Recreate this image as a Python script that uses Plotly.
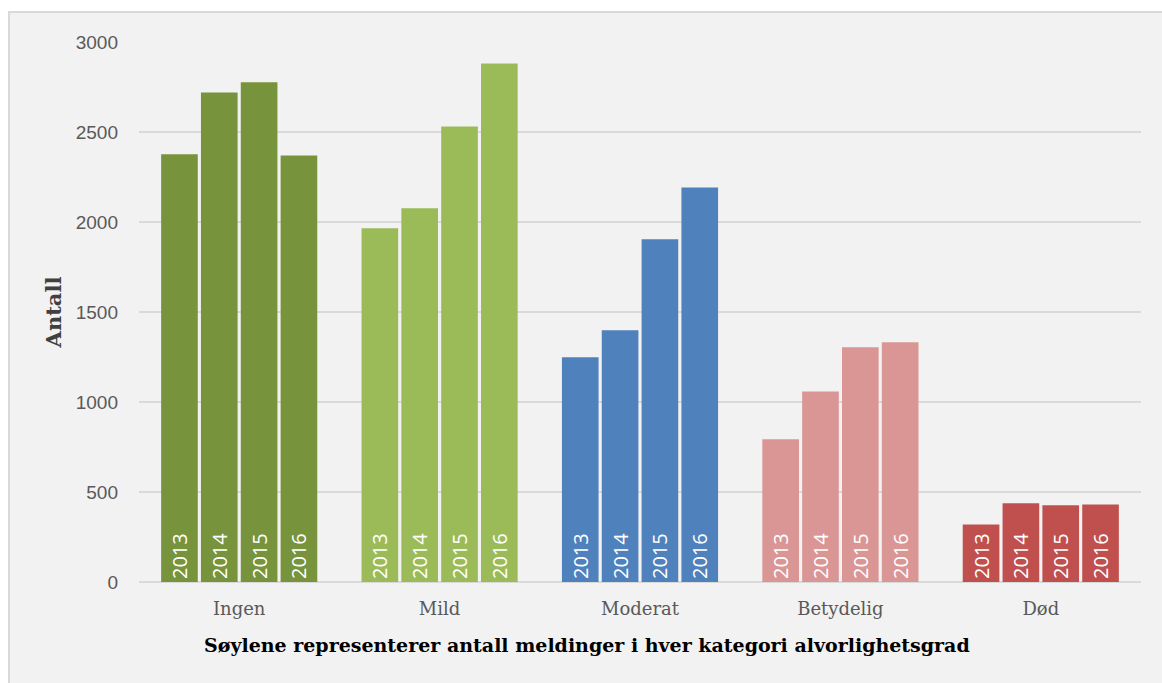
import plotly.graph_objects as go

# Alvorlighetsgrad categories and years
categories = ["Ingen", "Mild", "Moderat", "Betydelig", "Død"]
years = ["2013", "2014", "2015", "2016"]

# Antall meldinger per kategori, one list per category (2013..2016)
ingen = [2376, 2720, 2776, 2370]
mild = [1965, 2076, 2531, 2881]
moderat = [1248, 1398, 1904, 2192]
betydelig = [793, 1058, 1304, 1332]
dod = [320, 437, 426, 431]

category_values = [ingen, mild, moderat, betydelig, dod]
category_colors = ["#77933C", "#9BBB59", "#4F81BD", "#D99694", "#C0504D"]

y_ticks = [0, 500, 1000, 1500, 2000, 2500, 3000]

W, H = 1162, 683
L, R, T, B = 139, 21, 42, 101

fig = go.Figure()

# One trace per year so bars group within each category; colour per category
for i, yr in enumerate(years):
    fig.add_trace(go.Bar(
        x=categories,
        y=[vals[i] for vals in category_values],
        marker=dict(color=category_colors, line=dict(width=0)),
        text=[yr] * len(categories),
        textposition="inside",
        insidetextanchor="start",
        textangle=-90,
        textfont=dict(family="Open Sans, DejaVu Sans, sans-serif", size=20, color="white"),
        constraintext="none",
        name=yr,
        showlegend=False,
        hoverinfo="x+y+name",
    ))

pw = W - L - R
ph = H - T - B

def px_x(px):
    return (px - L) / pw

def px_y(py):
    return (H - B - py) / ph

# Outer chart frame (light grey panel with border)
fig.add_shape(
    type="rect", xref="paper", yref="paper",
    x0=px_x(9), x1=px_x(W + 20), y0=px_y(H + 20), y1=px_y(12),
    fillcolor="#F2F2F2", line=dict(color="#D9D9D9", width=2), layer="below",
)

# Horizontal axis title
fig.add_annotation(
    xref="paper", yref="paper", x=px_x(587), y=px_y(645),
    text="<b>Søylene representerer antall meldinger i hver kategori alvorlighetsgrad</b>",
    showarrow=False, xanchor="center", yanchor="middle",
    font=dict(family="DejaVu Serif, Georgia, serif", size=19, color="#000000"),
)

fig.update_layout(
    width=W, height=H,
    margin=dict(l=L, r=R, t=T, b=B),
    paper_bgcolor="white",
    plot_bgcolor="white",
    barmode="group",
    bargap=0.205,
    bargroupgap=0.08,
    xaxis=dict(
        showgrid=False, showline=False, zeroline=False,
        ticks="", tickfont=dict(family="DejaVu Serif, Georgia, serif", size=18, color="#595959"),
        ticklabelstandoff=14,
    ),
    yaxis=dict(
        range=[0, 3000], tickvals=y_ticks,
        showgrid=True, gridcolor="#D9D9D9", gridwidth=1.5,
        zeroline=True, zerolinecolor="#D9D9D9", zerolinewidth=1.5,
        showline=False, ticks="",
        tickfont=dict(family="Liberation Sans, Arial, sans-serif", size=19, color="#595959"),
        ticklabelstandoff=20,
        title=dict(
            text="<b>Antall</b>",
            font=dict(family="DejaVu Serif, Georgia, serif", size=21, color="#404040"),
            standoff=8,
        ),
    ),
)

fig.write_html("out.html")
